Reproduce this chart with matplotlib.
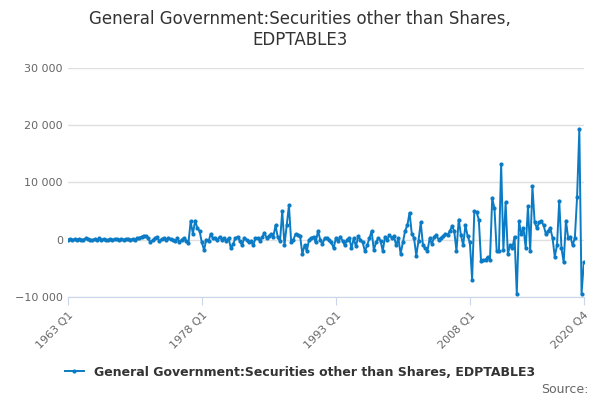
import numpy as np
import matplotlib.pyplot as plt

values = [
    0, 100, 0, 50, -50, 100, 0, 0, 200, 100, 0, -100, 100, 0, 200, 0,
    100, 0, -100, 100, 0, 100, 50, 0, 100, 0, 100, 150, 0, 100, 0, 200,
    300, 500, 700, 600,
    200, -500, -100, 300,
    400, -300, 100, 200,
    0, 300, 100, 0,
    -300, 200, -400, 0,
    300, -200, -600, 3200,
    1000, 3300, 2000, 1500,
    -500, -1800, 0, -300,
    1000, 200, 300, -100,
    500, 0, 300, -200,
    200, -1500, -800, 200,
    500, -200, -1000, 300,
    0, -500, -200, -1000,
    200, 300, -200, 400,
    1200, 300, 600, 1000,
    500, 2500, 400, -300,
    5000, -1000, 2500, 6000,
    -500, 0, 1000, 800,
    600, -2500, -1000, -2000,
    0, 300, 500, -500,
    1500, 0, -800, 200,
    300, 0, -500, -1500,
    200, -300, 500, -200,
    -1000, 0, 300, -1500,
    200, -1200, 600, 0,
    -500, -2000, -1000, 200,
    1500, -1800, -500, 300,
    -200, -2000, 500, 0,
    800, 300, 600, -1000,
    200, -2500, -500, 1500,
    2500, 4700, 1000, 300,
    -2800, -200, 3000, -1000,
    -1500, -2000, 200, -800,
    500, 800, 0, 300,
    600, 1000, 800, 1500,
    2300, 1500, -2000, 3500,
    800, -1000, 2500, 600,
    -500, -7000, 5000, 4800,
    3500, -3800, -3600, -3500,
    -3000, -3500, 7200, 5500,
    -2000, -2000, 13200, -1800,
    6500, -2500, -1000, -1500,
    500, -9500, 3200, 1000,
    2000, -1500, 5800, -2000,
    9300, 3000, 2000, 3000,
    3200, 2500, 1000, 1500,
    2000, 300, -3000, -1000,
    6800, -1500, -4000, 3300,
    300, 500, -1000, 300,
    7500, 19300, -9500, -4000,
]
quarters = [f"{y} Q{q}" for y in range(1963, 2021) for q in range(1, 5)]
tick_labels = ["1963 Q1", "1978 Q1", "1993 Q1", "2008 Q1", "2020 Q4"]
yticks = [-10000, 0, 10000, 20000, 30000]

fig = plt.figure(figsize=(6, 4), dpi=100)
ax = fig.add_axes([0.113, 0.258, 0.86, 0.572])
x = np.arange(len(values))
ax.plot(x, values, color="#0a7bc4", lw=1.4, marker="o", ms=2, label="General Government:Securities other than Shares, EDPTABLE3")
ax.set_xlim(0, len(values) - 1)
ax.set_ylim(-10000, 30000)
ax.set_yticks(yticks)
ax.set_yticklabels([f"{v:,}".replace(",", " ").replace("-", "−") for v in yticks])
ax.set_xticks([quarters.index(t) for t in tick_labels])
ax.set_xticklabels(tick_labels, rotation=45, ha="right", rotation_mode="anchor")
ax.grid(axis="y", color="#e0e0e0", lw=1)
ax.set_axisbelow(True)
for s in ["top", "right", "left"]:
    ax.spines[s].set_visible(False)
ax.spines["bottom"].set_color("#ccd6eb")
ax.tick_params(axis="y", length=0, labelsize=8, colors="#666666")
ax.tick_params(axis="x", length=6, color="#ccd6eb", labelsize=8, colors="#666666")
fig.suptitle("General Government:Securities other than Shares,\nEDPTABLE3", y=0.975, fontsize=12, color="#333333")
fig.legend(loc="lower center", bbox_to_anchor=(0.5, 0.025), frameon=False, prop={"size": 9, "weight": "bold"}, labelcolor="#333333", handlelength=1.5)
fig.text(0.98, 0.01, "Source:", ha="right", va="bottom", fontsize=9, color="#666666")
fig.savefig("out.png")
